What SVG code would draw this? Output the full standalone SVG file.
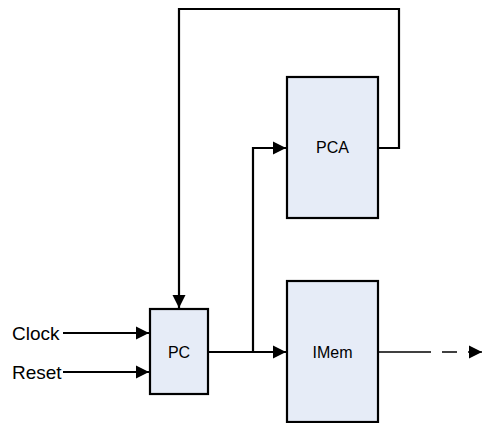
<svg xmlns="http://www.w3.org/2000/svg" width="483" height="423" viewBox="0 0 483 423">
<style>
.box{fill:#E6ECF7;stroke:#000;stroke-width:2.2}
.w{fill:none;stroke:#000;stroke-width:2.2}
.t{font-family:"Liberation Sans",Arial,sans-serif;font-size:16px;fill:#000}
.lbl{font-family:"Liberation Sans",Arial,sans-serif;font-size:19px;fill:#000}
</style>
<defs>
<marker id="ah" markerWidth="14" markerHeight="14" refX="13" refY="7" orient="auto" markerUnits="userSpaceOnUse">
<path d="M0,0.5 L13,7 L0,13.5 Z" fill="#000"/>
</marker>
</defs>
<g id="connectors">
<path class="w" d="M63,333 H149" marker-end="url(#ah)"/>
<path class="w" d="M63,372 H149" marker-end="url(#ah)"/>
<path class="w" d="M208,352 H286" marker-end="url(#ah)"/>
<path class="w" d="M253,352 V148 H286" marker-end="url(#ah)"/>
<path class="w" d="M378,148 H399 V9 H179 V308" marker-end="url(#ah)"/>
<path fill="none" stroke="#000" stroke-width="1.5" d="M378,352 H431"/>
<path fill="none" stroke="#000" stroke-width="1.5" d="M442,352 H457"/>
<path fill="none" stroke="#000" stroke-width="1.5" d="M468,352 H482" marker-end="url(#ah)"/>
</g>
<g id="pc">
<rect class="box" x="150" y="309" width="58" height="85"/>
<text class="t" x="179" y="357.5" text-anchor="middle">PC</text>
</g>
<g id="pca">
<rect class="box" x="287" y="77" width="91" height="141"/>
<text class="t" x="332.5" y="153" text-anchor="middle">PCA</text>
</g>
<g id="imem">
<rect class="box" x="287" y="281" width="91" height="141"/>
<text class="t" x="332.5" y="357.5" text-anchor="middle">IMem</text>
</g>
<g id="clock">
<text class="lbl" x="12" y="339.5">Clock</text>
</g>
<g id="reset">
<text class="lbl" x="12" y="378.5">Reset</text>
</g>
</svg>
